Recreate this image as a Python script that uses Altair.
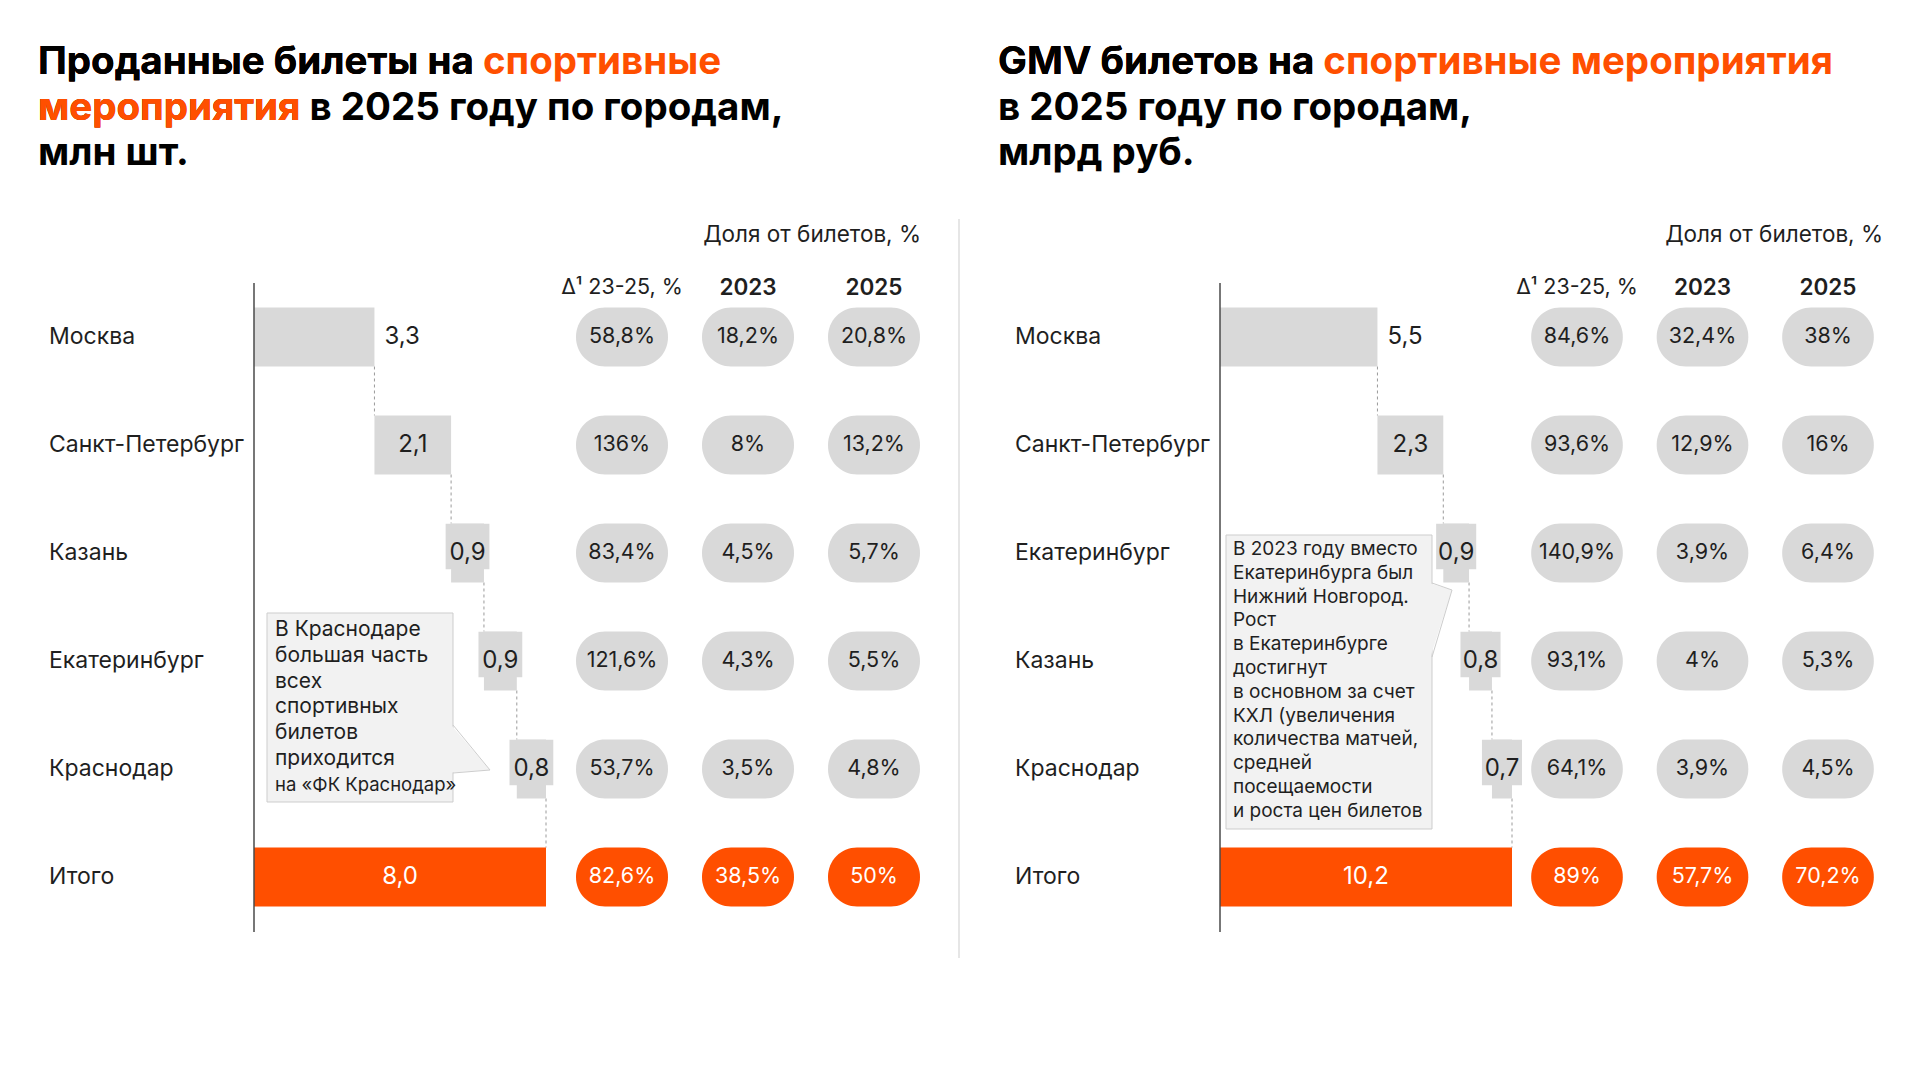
import altair as alt
import pandas as pd

# ---------------- data ----------------
cities_left = ["Москва", "Санкт-Петербург", "Казань", "Екатеринбург", "Краснодар"]
tickets_mln = [3.3, 2.1, 0.9, 0.9, 0.8]
tickets_total = 8.0
delta_left = [58.8, 136, 83.4, 121.6, 53.7, 82.6]
share2023_left = [18.2, 8, 4.5, 4.3, 3.5, 38.5]
share2025_left = [20.8, 13.2, 5.7, 5.5, 4.8, 50]

cities_right = ["Москва", "Санкт-Петербург", "Екатеринбург", "Казань", "Краснодар"]
gmv_bln = [5.5, 2.3, 0.9, 0.8, 0.7]
gmv_total = 10.2
delta_right = [84.6, 93.6, 140.9, 93.1, 64.1, 89]
share2023_right = [32.4, 12.9, 3.9, 4, 3.9, 57.7]
share2025_right = [38, 16, 6.4, 5.3, 4.5, 70.2]

total_label = "Итого"
column_headers = ["Δ¹ 23-25, %", "2023", "2025"]
share_header = "Доля от билетов, %"

title_left = [("Проданные билеты на ", "спортивные"), ("мероприятия", " в 2025 году по городам,"), "млн шт."]
title_right = [("GMV билетов на ", "спортивные мероприятия"), "в 2025 году по городам,", "млрд руб."]

note_left = ["В Краснодаре", "большая часть", "всех", "спортивных", "билетов", "приходится", "на «ФК Краснодар»"]
note_right = ["В 2023 году вместо", "Екатеринбурга был", "Нижний Новгород.", "Рост", "в Екатеринбурге",
              "достигнут", "в основном за счет", "КХЛ (увеличения", "количества матчей,", "средней",
              "посещаемости", "и роста цен билетов"]

# ---------------- style ----------------
FONT = "Inter"
GREY = "#d9d9d9"
ORANGE = "#ff4f00"
TXT = "#1f1f1f"
TITLE_SIZE = 38.5

YS = alt.Scale(domain=[-0.5, 5.5], range=[275, 923])


def pct(v):
    return f"{v:g}".replace(".", ",") + "%"


def num(v):
    return f"{v:.1f}".replace(".", ",")


def bar_frame(cities, values, total):
    rows = []
    cum = 0.0
    for i, (c, v) in enumerate(zip(cities, values)):
        rows.append(dict(idx=i, city=c, start=cum, end=cum + v, value=v, kind="city", label=num(v)))
        cum += v
    rows.append(dict(idx=len(cities), city=total_label, start=0.0, end=total, value=total,
                     kind="total", label=num(total)))
    return pd.DataFrame(rows)


def pill_frame(cols):
    rows = []
    for c, arr in enumerate(cols):
        for i, v in enumerate(arr):
            rows.append(dict(idx=i, col=c, label=pct(v), kind="total" if i == len(arr) - 1 else "city"))
    return pd.DataFrame(rows)


def is_total_color(a, b):
    return alt.condition("datum.kind == 'total'", alt.value(a), alt.value(b))


def Yq(f):
    return alt.Y(f, type="quantitative", scale=YS, axis=None)


dummy = pd.DataFrame({"a": [0]})


def txt(text, x, y, size, color=TXT, weight="normal", align="left", baseline="alphabetic"):
    return alt.Chart(dummy).mark_text(
        font=FONT, fontSize=size, fontWeight=weight, color=color, align=align, baseline=baseline
    ).encode(x=alt.value(x), y=alt.value(y), text=alt.value(text))


def panel(df, pills, xs_bar, xs_pill, hw, label_x, axis_x, share_x):
    layers = []
    Xb = lambda f: alt.X(f, type="quantitative", scale=xs_bar, axis=None)
    Xp = lambda f: alt.X(f, type="quantitative", scale=xs_pill, axis=None)
    base = alt.Chart(df)
    # dashed connectors
    layers.append(base.transform_filter("datum.kind == 'city'").transform_calculate(
        y0="datum.idx + 0.273", y1="datum.idx + 0.727"
    ).mark_rule(color="#9a9a9a", strokeDash=[3, 3], strokeWidth=1).encode(
        x=Xb("end"), y=Yq("y0"), y2="y1:Q"))
    # bars
    layers.append(base.transform_calculate(
        y0="datum.idx - 0.273", y1="datum.idx + 0.273"
    ).mark_rect().encode(
        x=Xb("start"), x2="end:Q", y=Yq("y0"), y2="y1:Q",
        color=is_total_color(ORANGE, GREY)))
    # label boxes for the small bars
    layers.append(base.transform_filter("datum.kind == 'city' && datum.value < 1").transform_calculate(
        bx0=f"(datum.start + datum.end) / 2 - {hw}", bx1=f"(datum.start + datum.end) / 2 + {hw}",
        y0="datum.idx - 0.27", y1="datum.idx + 0.15"
    ).mark_rect(color=GREY).encode(x=Xb("bx0"), x2="bx1:Q", y=Yq("y0"), y2="y1:Q"))
    # value labels
    layers.append(base.transform_filter("datum.idx == 0").mark_text(
        font=FONT, fontSize=24, color=TXT, align="left", dx=10, baseline="middle"
    ).encode(x=Xb("end"), y=Yq("idx"), text="label:N"))
    layers.append(base.transform_filter("datum.idx > 0").transform_calculate(
        mid="(datum.start + datum.end) / 2"
    ).mark_text(font=FONT, fontSize=24, align="center", baseline="middle").encode(
        x=Xb("mid"), y=Yq("idx"), text="label:N", color=is_total_color("#ffffff", TXT)))
    # city labels
    layers.append(base.mark_text(font=FONT, fontSize=23, color=TXT, align="left", baseline="middle").encode(
        x=alt.value(label_x), y=Yq("idx"), text="city:N"))
    # axis line
    layers.append(alt.Chart(dummy).mark_rule(color="#4a4a4a", strokeWidth=1.5).encode(
        x=alt.value(axis_x), y=alt.value(275), y2=alt.value(924)))
    # pills
    pb = alt.Chart(pills)
    layers.append(pb.transform_calculate(
        x0="datum.col - 0.365", x1="datum.col + 0.365", y0="datum.idx - 0.273", y1="datum.idx + 0.273"
    ).mark_rect(cornerRadius=29).encode(
        x=Xp("x0"), x2="x1:Q", y=Yq("y0"), y2="y1:Q", color=is_total_color(ORANGE, GREY)))
    layers.append(pb.mark_text(font=FONT, fontSize=21.5, align="center", baseline="middle").encode(
        x=Xp("col"), y=Yq("idx"), text="label:N", color=is_total_color("#ffffff", TXT)))
    # column headers
    hdr = pd.DataFrame({"col": [0, 1, 2], "text": column_headers, "bold": [False, True, True]})
    layers.append(alt.Chart(hdr).transform_filter("!datum.bold").mark_text(
        font=FONT, fontSize=21.5, color=TXT, align="center").encode(
        x=Xp("col"), y=alt.value(280), text="text:N"))
    layers.append(alt.Chart(hdr).transform_filter("datum.bold").mark_text(
        font=FONT, fontSize=22.5, fontWeight=600, color=TXT, align="center").encode(
        x=Xp("col"), y=alt.value(280), text="text:N"))
    layers.append(txt(share_header, share_x, 234, 22.5, align="right"))
    return layers


def callout(lines, x0, y0, x1, y1, tri, tx, ty, step, size, last_size):
    layers = []
    layers.append(alt.Chart(dummy).mark_rect(fill="#f2f2f2", stroke="#cdcdcd", strokeWidth=1).encode(
        x=alt.value(x0), x2=alt.value(x1), y=alt.value(y0), y2=alt.value(y1)))
    (ax, ay), (bx, by), (cx, cy) = tri
    tri_df = pd.DataFrame({"px": [ax - 1.5, bx], "py": [ay + 0.5, by], "py2": [cy - 0.5, by]})
    layers.append(alt.Chart(tri_df).mark_area(color="#f2f2f2").encode(
        x=alt.X("px:Q", scale=None, axis=None), y=alt.Y("py:Q", scale=None, axis=None), y2="py2:Q"))
    layers.append(alt.Chart(dummy).mark_rule(color="#cdcdcd", strokeWidth=1).encode(
        x=alt.value(ax), y=alt.value(ay), x2=alt.value(bx), y2=alt.value(by)))
    layers.append(alt.Chart(dummy).mark_rule(color="#cdcdcd", strokeWidth=1).encode(
        x=alt.value(bx), y=alt.value(by), x2=alt.value(cx), y2=alt.value(cy)))
    ldf = pd.DataFrame({"k": list(range(len(lines))), "t": lines})
    n = len(lines)
    for cond, fs in ((f"datum.k < {n - 1}", size), (f"datum.k == {n - 1}", last_size)):
        layers.append(alt.Chart(ldf).transform_filter(cond).transform_calculate(
            py=f"{ty} + {step} * datum.k"
        ).mark_text(font=FONT, fontSize=fs, color=TXT, align="left", baseline="middle").encode(
            x=alt.value(tx), y=alt.Y("py:Q", scale=None, axis=None), text="t:N"))
    return layers


def title_layers(spec, x):
    out = []
    ys = [66, 112, 157]
    for line, y in zip(spec, ys):
        if isinstance(line, tuple):
            a, b = line
            if a.endswith(" "):
                # black prefix, orange suffix
                out.append(txt(a + b, x, y, TITLE_SIZE, color=ORANGE, weight="bold"))
                out.append(txt(a.rstrip(), x, y, TITLE_SIZE, color="#000000", weight="bold"))
                out.append(txt(a.rstrip(), x, y, TITLE_SIZE, color="#000000", weight="bold"))
            else:
                # orange prefix, black suffix
                out.append(txt(a + b, x, y, TITLE_SIZE, color="#000000", weight="bold"))
                out.append(txt(a, x, y, TITLE_SIZE, color=ORANGE, weight="bold"))
                out.append(txt(a, x, y, TITLE_SIZE, color=ORANGE, weight="bold"))
        else:
            out.append(txt(line, x, y, TITLE_SIZE, color="#000000", weight="bold"))
    return out


df_l = bar_frame(cities_left, tickets_mln, tickets_total)
df_r = bar_frame(cities_right, gmv_bln, gmv_total)
pills_l = pill_frame([delta_left, share2023_left, share2025_left])
pills_r = pill_frame([delta_right, share2023_right, share2025_right])

layers = []
layers += title_layers(title_left, 30)
layers += title_layers(title_right, 990)
layers.append(alt.Chart(dummy).mark_rule(color="#e6e6e6", strokeWidth=2).encode(
    x=alt.value(951), y=alt.value(211), y2=alt.value(950)))
layers += panel(df_l, pills_l,
                alt.Scale(domain=[0, tickets_total], range=[246, 538], nice=False, zero=False),
                alt.Scale(domain=[0, 2], range=[614, 866], nice=False, zero=False),
                0.6, 41, 246, 913)
layers += panel(df_r, pills_r,
                alt.Scale(domain=[0, gmv_total], range=[1212, 1504], nice=False, zero=False),
                alt.Scale(domain=[0, 2], range=[1569, 1820], nice=False, zero=False),
                0.7, 1007, 1212, 1875)
layers += callout(note_left, 259, 605, 445, 794, ((445, 717), (482, 762), (445, 765)),
                  267, 622, 25.8, 21, 18.5)
layers += callout(note_right, 1218, 527, 1424, 821, ((1424, 575), (1444, 582), (1424, 649)),
                  1225, 541, 23.8, 19, 19)

chart = alt.layer(*layers).resolve_scale(x="independent", y="independent").properties(
    width=1904, height=1064, padding=0, autosize="none", background="#ffffff"
).configure_view(stroke=None)

chart.save("out.html", embed_options={"renderer": "svg", "actions": False})
